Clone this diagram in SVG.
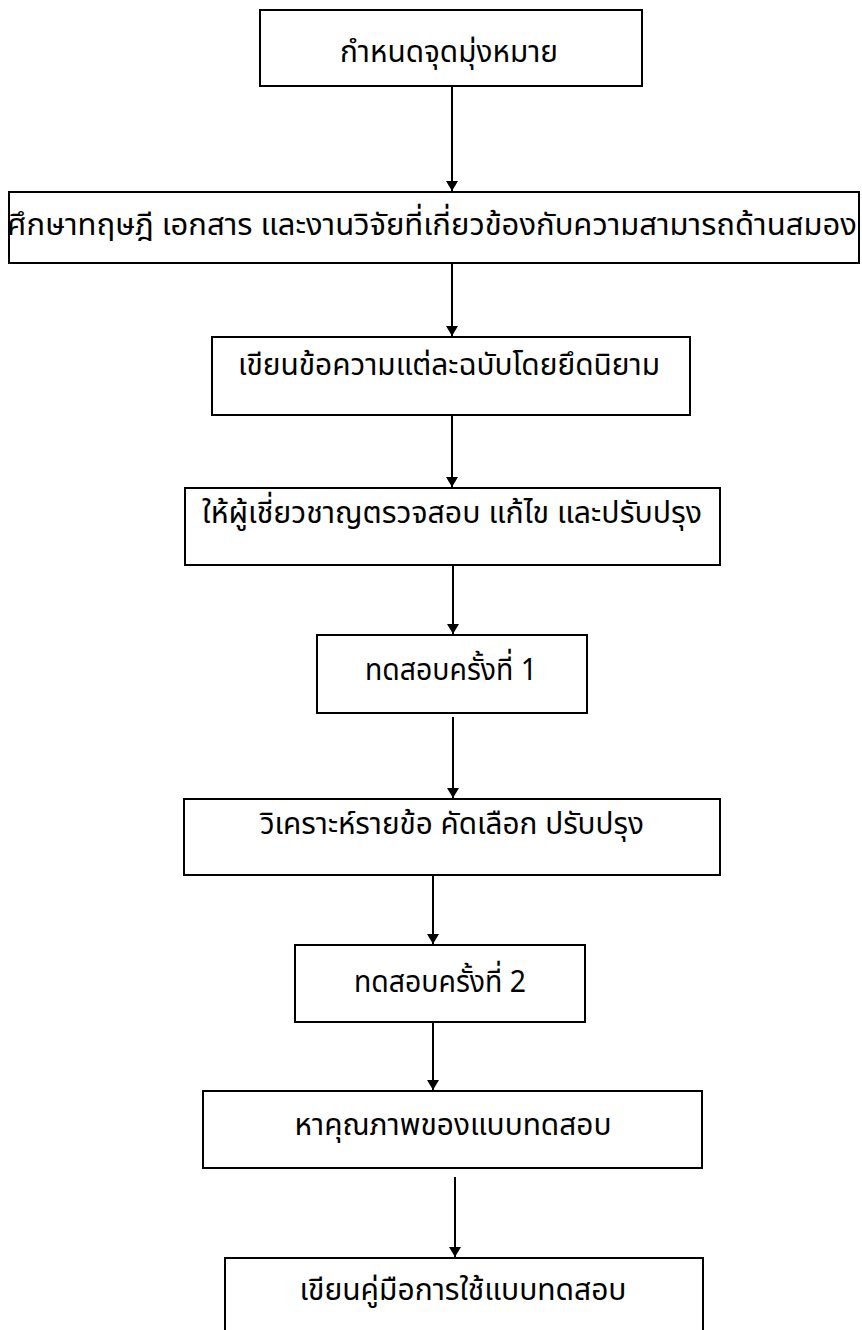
<svg xmlns="http://www.w3.org/2000/svg" width="862" height="1330" viewBox="0 0 862 1330">
<defs>
<marker id="ah" viewBox="0 0 10 12" refX="10" refY="6" markerWidth="10" markerHeight="12" markerUnits="userSpaceOnUse" orient="auto">
<path d="M0,0 L10,6 L0,12 z" fill="#000"/>
</marker>
<style>
.box{fill:#fff;stroke:#000;stroke-width:2}
.t{font-family:"Noto Sans Thai","DejaVu Sans",sans-serif;font-size:31px;fill:#000;text-anchor:middle}
.c{stroke:#000;stroke-width:2;fill:none;marker-end:url(#ah)}
</style>
</defs>
<rect width="862" height="1330" fill="#fff"/>
<g id="connectors">
<line class="c" x1="452" y1="86" x2="452" y2="191"/>
<line class="c" x1="452" y1="264" x2="452" y2="336"/>
<line class="c" x1="452" y1="415" x2="452" y2="487"/>
<line class="c" x1="453" y1="566" x2="453" y2="634"/>
<line class="c" x1="453" y1="717" x2="453" y2="798"/>
<line class="c" x1="433" y1="876" x2="433" y2="944"/>
<line class="c" x1="433" y1="1023" x2="433" y2="1090"/>
<line class="c" x1="455" y1="1177" x2="455" y2="1257"/>
</g>
<g id="n1"><rect class="box" x="260" y="10" width="382" height="76"/><text class="t" x="449" y="62" textLength="218" lengthAdjust="spacingAndGlyphs">กำหนดจุดมุ่งหมาย</text></g>
<g id="n2"><rect class="box" x="9" y="192" width="850" height="71"/><text class="t" x="432" y="235" font-size="25.3">ศึกษาทฤษฎี เอกสาร และงานวิจัยที่เกี่ยวข้องกับความสามารถด้านสมอง</text></g>
<g id="n3"><rect class="box" x="212" y="337" width="478" height="78"/><text class="t" x="449" y="375" textLength="422" lengthAdjust="spacingAndGlyphs">เขียนข้อความแต่ละฉบับโดยยึดนิยาม</text></g>
<g id="n4"><rect class="box" x="185" y="488" width="535" height="77"/><text class="t" x="452" y="523" textLength="500" lengthAdjust="spacingAndGlyphs">ให้ผู้เชี่ยวชาญตรวจสอบ แก้ไข และปรับปรุง</text></g>
<g id="n5"><rect class="box" x="317" y="635" width="270" height="78"/><text class="t" x="451" y="680" textLength="172" lengthAdjust="spacingAndGlyphs">ทดสอบครั้งที่ 1</text></g>
<g id="n6"><rect class="box" x="184" y="799" width="536" height="76"/><text class="t" x="452" y="834" textLength="384" lengthAdjust="spacingAndGlyphs">วิเคราะห์รายข้อ คัดเลือก ปรับปรุง</text></g>
<g id="n7"><rect class="box" x="295" y="945" width="290" height="77"/><text class="t" x="440" y="992" textLength="172" lengthAdjust="spacingAndGlyphs">ทดสอบครั้งที่ 2</text></g>
<g id="n8"><rect class="box" x="203" y="1091" width="499" height="77"/><text class="t" x="453" y="1135" textLength="317" lengthAdjust="spacingAndGlyphs">หาคุณภาพของแบบทดสอบ</text></g>
<g id="n9"><rect class="box" x="225" y="1258" width="478" height="90"/><text class="t" x="463" y="1300" textLength="327" lengthAdjust="spacingAndGlyphs">เขียนคู่มือการใช้แบบทดสอบ</text></g>
</svg>
